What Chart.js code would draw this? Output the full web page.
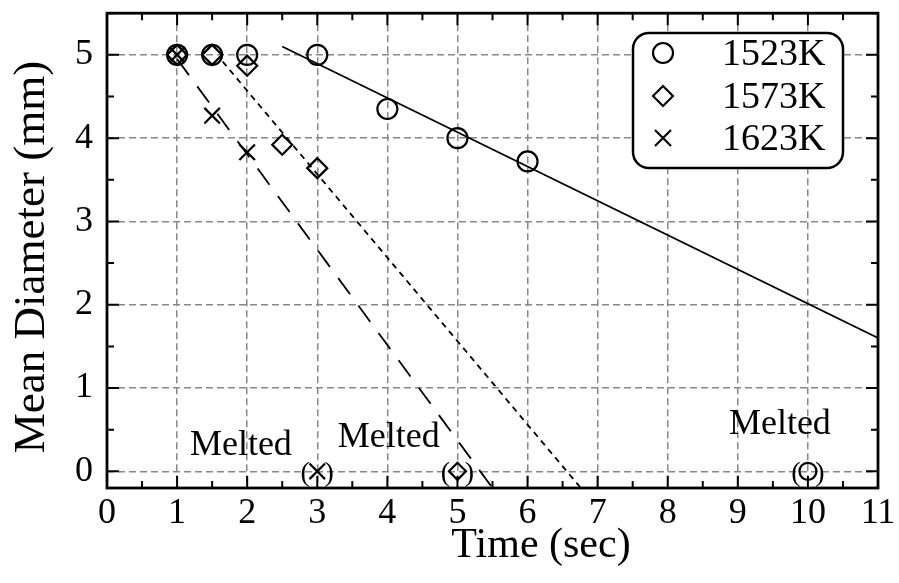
<!DOCTYPE html>
<html>
<head>
<meta charset="utf-8">
<script src="https://cdn.jsdelivr.net/npm/chart.js@4.4.1/dist/chart.umd.min.js"></script>
<style>
  html, body { margin: 0; padding: 0; background: #fff; }
</style>
</head>
<body>
<canvas id="grafico" width="899" height="583"></canvas>
<script>
// medidas de diametro medio por temperatura (0 mm => fundido)
const tempos1523 = [1, 1.5, 2, 3, 4, 5, 6, 10];
const diam1523 = [5, 5, 5, 5, 4.35, 4.0, 3.72, 0];
const tempos1573 = [1, 1.5, 2, 2.5, 3, 5];
const diam1573 = [5, 5, 4.87, 3.92, 3.64, 0];
const tempos1623 = [1, 1.5, 2, 3];
const diam1623 = [5, 4.27, 3.83, 0];

// retas de ajuste (extremos)
const ajuste1523 = [[2.5, 5.1], [11, 1.6]];
const ajuste1573 = [[1.65, 4.92], [6.76, -0.2]];
const ajuste1623 = [[1.0, 4.95], [5.5, -0.2]];

const legendas = ["1523K", "1573K", "1623K"];
const marcadores = ["circle", "rectRot", "crossRot"];

// rotulos "Melted" (posicao em unidades do grafico)
const fundidos = [[1.91, 0.31], [4.02, 0.4], [9.6, 0.56]];

const serif = '"Liberation Serif", "Times New Roman", serif';

function pontos(xs, ys) {
  return xs.map((v, i) => ({ x: v, y: ys[i] }));
}
function reta(par) {
  return par.map(p => ({ x: p[0], y: p[1] }));
}

function serie(i, xs, ys) {
  return {
    type: "scatter",
    label: legendas[i],
    data: pontos(xs, ys),
    pointStyle: marcadores[i],
    pointRadius: c => (c.raw && c.raw.y === 0 && i < 2 ? 8.5 : (i == 2 ? 11 : 10)),
    borderColor: "#000",
    backgroundColor: "rgba(0,0,0,0)",
    pointBorderWidth: 2.2,
    showLine: false,
  };
}

function linha(par, dash, w) {
  return {
    type: "line",
    data: reta(par),
    borderColor: "#000",
    borderWidth: w,
    borderDash: dash,
    pointRadius: 0,
    fill: false,
    tension: 0,
  };
}

// moldura, ticks internos, parenteses, rotulos, titulos e legenda
const moldura = {
  id: "moldura",
  afterDatasetsDraw(chart) {
    const { ctx, chartArea: a, scales: { x, y } } = chart;
    ctx.save();
    ctx.strokeStyle = "#000";
    ctx.lineWidth = 2;
    ctx.setLineDash([]);
    ctx.beginPath();
    for (let v = 0.5; v < 11; v += 0.5) {
      const px = x.getPixelForValue(v);
      const len = Number.isInteger(v) ? 12 : 7;
      ctx.moveTo(px, a.bottom); ctx.lineTo(px, a.bottom - len);
      ctx.moveTo(px, a.top); ctx.lineTo(px, a.top + len);
    }
    for (let v = 0; v <= 5.5; v += 0.5) {
      const py = y.getPixelForValue(v);
      const len = Number.isInteger(v) ? 12 : 7;
      ctx.moveTo(a.left, py); ctx.lineTo(a.left + len, py);
      ctx.moveTo(a.right, py); ctx.lineTo(a.right - len, py);
    }
    ctx.stroke();
    ctx.lineWidth = 2.8;
    ctx.strokeRect(a.left, a.top, a.width, a.height);

    // parenteses em volta dos pontos fundidos
    ctx.fillStyle = "#000";
    ctx.font = "28px " + serif;
    ctx.textAlign = "center";
    ctx.textBaseline = "middle";
    chart.data.datasets.forEach(ds => {
      if (ds.type !== "scatter") return;
      ds.data.forEach(p => {
        if (p.y !== 0) return;
        const px = x.getPixelForValue(p.x), py = y.getPixelForValue(p.y);
        ctx.fillText("(", px - 12, py + 2);
        ctx.fillText(")", px + 12, py + 2);
      });
    });

    ctx.font = "36px " + serif;
    fundidos.forEach(f => {
      ctx.fillText("Melted", x.getPixelForValue(f[0]), y.getPixelForValue(f[1]));
    });

    // titulos dos eixos
    ctx.textBaseline = "alphabetic";
    ctx.font = "42px " + serif;
    ctx.fillText("Time (sec)", 541, 557);
    ctx.save();
    ctx.font = "45px " + serif;
    ctx.translate(44, 257);
    ctx.rotate(-Math.PI / 2);
    ctx.fillText("Mean Diameter (mm)", 0, 0);
    ctx.restore();

    // legenda
    const bx = 633, by = 33, bw = 210, bh = 135, r = 16;
    ctx.lineWidth = 2.5;
    ctx.beginPath();
    ctx.roundRect(bx, by, bw, bh, r);
    ctx.fillStyle = "#fff";
    ctx.fill();
    ctx.stroke();
    ctx.fillStyle = "#000";
    ctx.lineWidth = 2.2;
    ctx.textBaseline = "middle";
    const linhas = [53, 96, 138];
    legendas.forEach((txt, i) => {
      const mx = 663, my = linhas[i];
      ctx.beginPath();
      if (marcadores[i] === "circle") {
        ctx.arc(mx, my, 10, 0, Math.PI * 2);
      } else if (marcadores[i] === "rectRot") {
        ctx.moveTo(mx, my - 10); ctx.lineTo(mx + 10, my);
        ctx.lineTo(mx, my + 10); ctx.lineTo(mx - 10, my); ctx.closePath();
      } else {
        ctx.moveTo(mx - 8, my - 8); ctx.lineTo(mx + 8, my + 8);
        ctx.moveTo(mx + 8, my - 8); ctx.lineTo(mx - 8, my + 8);
      }
      ctx.stroke();
      ctx.font = "38px " + serif;
      ctx.textAlign = "left";
      ctx.fillText(txt, 722, my + 2);
    });
    ctx.restore();
  },
};

const grade = {
  color: "#888",
  lineWidth: 1.5,
  drawTicks: false,
};

const config = {
  data: {
    datasets: [
      linha(ajuste1523, [], 1.8),
      linha(ajuste1573, [6, 5], 1.8),
      linha(ajuste1623, [20, 14], 1.8),
      serie(0, tempos1523, diam1523),
      serie(1, tempos1573, diam1573),
      serie(2, tempos1623, diam1623),
    ],
  },
  options: {
    responsive: false,
    animation: false,
    layout: { padding: { left: 0, top: 10, right: 21, bottom: 0 } },
    plugins: {
      legend: { display: false },
      tooltip: { enabled: false },
    },
    scales: {
      x: {
        type: "linear",
        min: 0,
        max: 11,
        grid: grade,
        border: { display: false, dash: [7, 4] },
        ticks: {
          stepSize: 1,
          color: "#000",
          padding: 4,
          font: { family: serif, size: 36 },
          maxRotation: 0,
        },
        afterFit(scale) {
          scale.height = 95;
          scale.paddingLeft = 0;
          scale.paddingRight = 0;
        },
      },
      y: {
        type: "linear",
        min: -0.2,
        max: 5.5,
        grid: grade,
        border: { display: false, dash: [7, 4] },
        ticks: {
          stepSize: 1,
          includeBounds: false,
          color: "#000",
          padding: 14,
          font: { family: serif, size: 36 },
        },
        afterFit(scale) {
          scale.width = 107;
          scale.paddingTop = 0;
          scale.paddingBottom = 0;
        },
      },
    },
  },
  plugins: [moldura],
};

new Chart(document.getElementById("grafico"), config);
</script>
</body>
</html>
